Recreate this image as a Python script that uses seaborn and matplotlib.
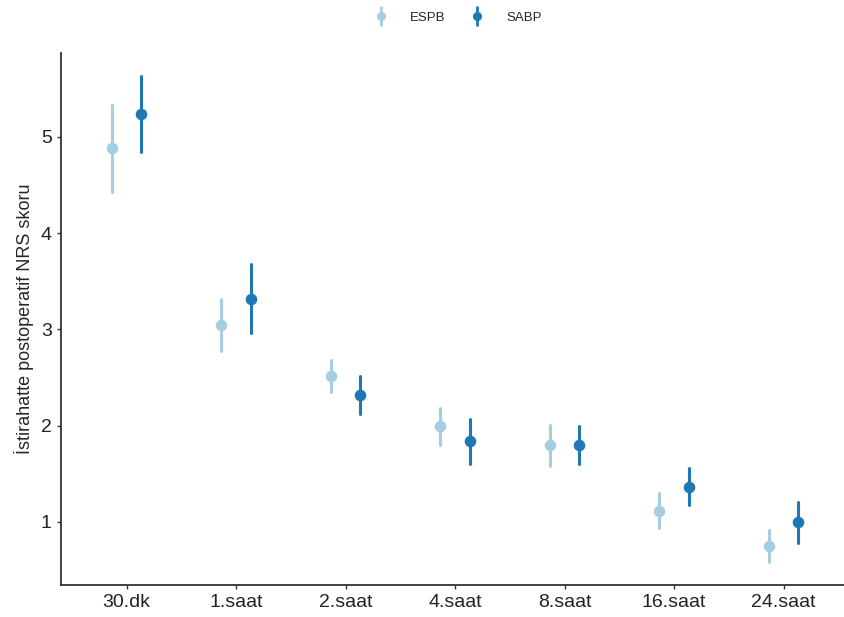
import pandas as pd
import numpy as np
import seaborn as sns
import matplotlib.pyplot as plt
from matplotlib.lines import Line2D

# values (mean, lower, upper)
zamanlar = ['30.dk', '1.saat', '2.saat', '4.saat', '8.saat', '16.saat', '24.saat']
gruplar = ['ESPB', 'SABP']

espb_ort = [4.88, 3.05, 2.52, 2.00, 1.80, 1.11, 0.75]
espb_alt = [4.43, 2.77, 2.35, 1.80, 1.58, 0.94, 0.58]
espb_ust = [5.33, 3.31, 2.68, 2.18, 2.01, 1.30, 0.92]

sabp_ort = [5.24, 3.32, 2.32, 1.84, 1.80, 1.36, 1.00]
sabp_alt = [4.84, 2.96, 2.12, 1.60, 1.60, 1.17, 0.78]
sabp_ust = [5.63, 3.68, 2.52, 2.07, 2.00, 1.56, 1.21]

renkler = ['#a6cee3', '#1f78b4']


def build_frame():
    rows = []
    for grup, ort, alt, ust in [('ESPB', espb_ort, espb_alt, espb_ust),
                                ('SABP', sabp_ort, sabp_alt, sabp_ust)]:
        for z, m, lo, hi in zip(zamanlar, ort, alt, ust):
            for v in (lo, m, hi):
                rows.append({'zaman': z, 'grup': grup, 'skor': v})
    return pd.DataFrame(rows)


def main():
    df = build_frame()

    sns.set_style('ticks')
    plt.rcParams['font.family'] = ['Liberation Sans', 'DejaVu Sans']

    fig = plt.figure(figsize=(8.45, 6.17), dpi=100)
    ax = fig.add_axes([0.072, 0.052, 0.928, 0.862])

    # median of (lo, mean, hi) = mean, full range = interval
    sns.pointplot(data=df, x='zaman', y='skor', hue='grup', order=zamanlar,
                  hue_order=gruplar, palette=renkler, estimator='median',
                  errorbar=('pi', 100), dodge=0.27, linestyle='none',
                  markers='o', markersize=6.3, err_kws={'linewidth': 2.2},
                  legend=False, ax=ax)

    ax.set_xlim(-0.6, 6.56)
    ax.set_ylim(0.345, 5.87)
    ax.set_yticks([1, 2, 3, 4, 5])
    ax.set_xlabel('')
    ax.set_ylabel('İstirahatte postoperatif NRS skoru', fontsize=13, labelpad=5)
    ax.tick_params(axis='both', labelsize=14, colors='#333333', length=3, width=1)
    ax.tick_params(axis='both', labelcolor='#222222')
    for s in ['left', 'bottom']:
        ax.spines[s].set_linewidth(1.3)
        ax.spines[s].set_color('#333333')
    sns.despine(ax=ax)

    handles = []
    for renk in renkler:
        cizgi = Line2D([], [], linestyle='none', marker='|', markersize=15,
                       markeredgewidth=2, color=renk)
        nokta = Line2D([], [], linestyle='none', marker='o', markersize=5.5,
                       color=renk)
        handles.append((cizgi, nokta))
    fig.legend(handles, gruplar, loc='upper center', bbox_to_anchor=(0.54, 1.0),
               ncol=2, frameon=False, fontsize=9.5, handlelength=1.6,
               columnspacing=1.6, handletextpad=1.4)

    fig.savefig('out.png', dpi=100)


if __name__ == "__main__":
    main()
